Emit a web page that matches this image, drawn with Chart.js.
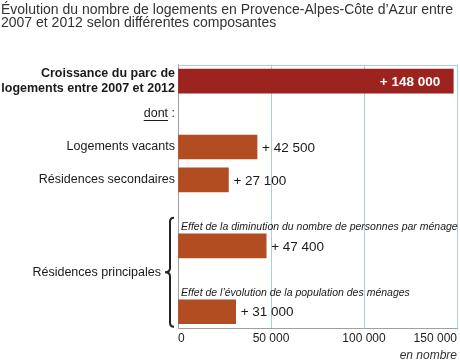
<!DOCTYPE html>
<html lang="fr">
<head>
<meta charset="utf-8">
<title>Évolution du nombre de logements en Provence-Alpes-Côte d’Azur</title>
<script src="https://cdn.jsdelivr.net/npm/chart.js@4/dist/chart.umd.min.js"></script>
<style>
    html, body { margin: 0; padding: 0; background: #fff; }
    #logements-wrap { width: 460px; height: 363px; }
</style>
</head>
<body>
<div id="logements-wrap"><canvas id="logements-chart" width="460" height="363"></canvas></div>
<script>
// chart data
var titleLines = [
    'Évolution du nombre de logements en Provence-Alpes-Côte d’Azur entre',
    '2007 et 2012 selon différentes composantes'
];
// one row per line of the chart; rows without a bar hold a label only
var rowLabels = [
    ['Croissance du parc de', 'logements entre 2007 et 2012'],
    'dont :',
    'Logements vacants',
    'Résidences secondaires',
    '',
    '',
    '',
    ''
];
var rowValues = [148000, null, 42500, 27100, null, 47400, null, 31000];
var valueLabels = ['+ 148 000', '', '+ 42 500', '+ 27 100', '', '+ 47 400', '', '+ 31 000'];
var subLabels = [
    '', '', '', '', '',
    'Effet de la diminution du nombre de personnes par ménage',
    '',
    'Effet de l’évolution de la population des ménages'
];
var groupLabel = 'Résidences principales';
var groupRows = [5, 7];
var xTicks = [0, 50000, 100000, 150000];
var xTickLabels = ['0', '50 000', '100 000', '150 000'];
var xUnit = 'en nombre';

(function () {
    'use strict';

    var FONT = "'Liberation Sans', Arial, Helvetica, sans-serif";
    var DARK_RED = '#9c231e';
    var ORANGE = '#b24c21';
    var GRID = '#a8cce9';
    var AXIS = '#a0a0a0';
    var TEXT = '#1a1a1a';

    function drawBrace(ctx, x, top, bottom, depth) {
        var mid = (top + bottom) / 2;
        var r = 4;
        ctx.beginPath();
        ctx.moveTo(x + r, top);
        ctx.quadraticCurveTo(x, top, x, top + r);
        ctx.lineTo(x, mid - r);
        ctx.quadraticCurveTo(x, mid, x - depth, mid);
        ctx.quadraticCurveTo(x, mid, x, mid + r);
        ctx.lineTo(x, bottom - r);
        ctx.quadraticCurveTo(x, bottom, x + r, bottom);
        ctx.stroke();
    }

    var annotations = {
        id: 'annotations',
        afterDatasetsDraw: function (chart) {
            var ctx = chart.ctx;
            var area = chart.chartArea;
            var bars = chart.getDatasetMeta(0).data;
            var yScale = chart.scales.y;
            ctx.save();

            // top edge of the frame
            ctx.strokeStyle = GRID;
            ctx.lineWidth = 1;
            ctx.beginPath();
            ctx.moveTo(area.left, Math.round(area.top) + 0.5);
            ctx.lineTo(area.right, Math.round(area.top) + 0.5);
            ctx.stroke();

            bars.forEach(function (bar, i) {
                if (rowValues[i] === null) {
                    return;
                }
                ctx.textBaseline = 'middle';
                if (i === 0) {
                    ctx.font = 'bold 13.5px ' + FONT;
                    ctx.fillStyle = '#fff';
                    ctx.textAlign = 'right';
                    ctx.fillText(valueLabels[i], bar.x - 13, bar.y + 1);
                } else {
                    ctx.font = '13.5px ' + FONT;
                    ctx.fillStyle = TEXT;
                    ctx.textAlign = 'left';
                    ctx.fillText(valueLabels[i], bar.x + 5, bar.y + 1);
                }
                if (subLabels[i]) {
                    ctx.font = 'italic 10.5px ' + FONT;
                    ctx.fillStyle = TEXT;
                    ctx.textAlign = 'left';
                    ctx.textBaseline = 'alphabetic';
                    ctx.fillText(subLabels[i], area.left + 3, bar.y - bar.height / 2 - 4);
                }
            });

            // brace grouping the two effects
            var first = bars[groupRows[0]];
            var last = bars[groupRows[1]];
            var top = first.y - first.height / 2 - 16;
            var bottom = last.y + last.height / 2 + 3;
            ctx.strokeStyle = '#222';
            ctx.lineWidth = 2;
            drawBrace(ctx, area.left - 8, top, bottom, 5);
            ctx.font = '12.5px ' + FONT;
            ctx.fillStyle = TEXT;
            ctx.textAlign = 'right';
            ctx.textBaseline = 'middle';
            ctx.fillText(groupLabel, area.left - 17, (top + bottom) / 2);

            // underline "dont"
            var dy = yScale.getPixelForValue(1);
            var right = yScale.right - 3;
            var wAll = ctx.measureText(rowLabels[1]).width;
            var wTail = ctx.measureText(' :').width;
            ctx.strokeStyle = TEXT;
            ctx.lineWidth = 1;
            ctx.beginPath();
            ctx.moveTo(right - wAll, Math.round(dy + 6) + 0.5);
            ctx.lineTo(right - wTail, Math.round(dy + 6) + 0.5);
            ctx.stroke();

            ctx.restore();
        }
    };

    function init() {
        var canvas = document.getElementById('logements-chart');
        if (!canvas || typeof Chart === 'undefined') {
            return;
        }
        new Chart(canvas.getContext('2d'), {
            type: 'bar',
            data: {
                labels: rowLabels,
                datasets: [
                    {
                        data: rowValues,
                        backgroundColor: function (c) {
                            return c.dataIndex === 0 ? DARK_RED : ORANGE;
                        },
                        barThickness: 24,
                        borderWidth: 0
                    }
                ]
            },
            options: {
                indexAxis: 'y',
                responsive: false,
                animation: false,
                layout: { padding: { left: 1, right: 2, top: 0, bottom: 0 } },
                plugins: {
                    legend: { display: false },
                    tooltip: { enabled: false },
                    title: {
                        display: true,
                        text: titleLines,
                        align: 'start',
                        color: '#333',
                        font: { family: FONT, size: 14, weight: 'normal', lineHeight: 0.95 },
                        padding: { top: 3, bottom: 35 }
                    }
                },
                scales: {
                    x: {
                        min: 0,
                        max: 150000,
                        afterBuildTicks: function (scale) {
                            scale.ticks = xTicks.map(function (v) {
                                return { value: v };
                            });
                        },
                        ticks: {
                            align: 'inner',
                            padding: 3,
                            color: '#222',
                            font: { family: FONT, size: 12 },
                            callback: function (value, index) {
                                return xTickLabels[index];
                            }
                        },
                        grid: {
                            drawTicks: false,
                            color: function (c) {
                                return c.tick && c.tick.value === 0 ? 'rgba(0,0,0,0)' : GRID;
                            }
                        },
                        border: { color: AXIS },
                        title: {
                            display: true,
                            text: xUnit,
                            align: 'end',
                            color: '#333',
                            font: { family: FONT, size: 12, style: 'italic' },
                            padding: { top: 0, bottom: 0 }
                        }
                    },
                    y: {
                        afterFit: function (scale) {
                            scale.width = 177;
                        },
                        grid: { display: false, drawTicks: false },
                        border: { color: AXIS },
                        ticks: {
                            padding: 3,
                            color: TEXT,
                            autoSkip: false,
                            font: function (c) {
                                return {
                                    family: FONT,
                                    size: 12.5,
                                    weight: c.index === 0 ? 'bold' : 'normal',
                                    lineHeight: 1.2
                                };
                            }
                        }
                    }
                }
            },
            plugins: [annotations]
        });
    }

    if (document.readyState === 'loading') {
        document.addEventListener('DOMContentLoaded', init);
    } else {
        init();
    }
})();
</script>
</body>
</html>
